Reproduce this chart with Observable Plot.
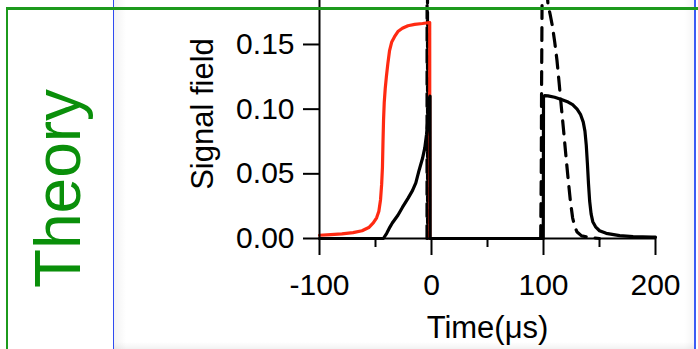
<!DOCTYPE html>
<html>
<head>
<meta charset="utf-8">
<script src="https://cdn.jsdelivr.net/npm/d3@7"></script>
<script src="https://cdn.jsdelivr.net/npm/@observablehq/plot@0.6"></script>
<style>
html, body { margin: 0; padding: 0; background: #fff; }
#wrap { position: relative; width: 698px; height: 349px; overflow: hidden; background: #fff; }
#chart { position: absolute; left: 0; top: 0; }
.deco { position: absolute; }
.shade-l { left: 114px; top: 0; width: 12px; height: 349px; background: linear-gradient(to right, rgba(0,0,0,0.05), rgba(0,0,0,0)); }
.shade-r { left: 684px; top: 0; width: 10px; height: 349px; background: linear-gradient(to left, rgba(0,0,0,0.04), rgba(0,0,0,0)); }
.shade-b { left: 114px; top: 342px; width: 580px; height: 7px; background: linear-gradient(to bottom, rgba(0,0,0,0), rgba(0,0,0,0.05)); }
.blue-l { left: 113px; top: 0; width: 1px; height: 349px; background: #2f4cf0; }
.blue-r { left: 694px; top: 0; width: 2px; height: 349px; background: #3a5cf5; }
.green-t { left: 6px; top: 7px; width: 692px; height: 3px; background: #1c9a1c; }
.green-l { left: 6px; top: 7px; width: 2px; height: 342px; background: #1c9a1c; }
</style>
</head>
<body>
<div id="wrap">
  <div id="chart"></div>
  <div class="deco shade-l"></div>
  <div class="deco shade-r"></div>
  <div class="deco shade-b"></div>
  <div class="deco blue-l"></div>
  <div class="deco blue-r"></div>
  <div class="deco green-t"></div>
  <div class="deco green-l"></div>
</div>
<script>
// ---- data ----
const xTicks = [-100, 0, 100, 200];
const xMinorTicks = [-50, 50, 150];
const yTicks = [0, 0.05, 0.10, 0.15];
const xLabel = "Time(μs)";
const yLabel = "Signal field";
const panelLabel = "Theory";

// red curve
const redT = [-100, -90, -80, -70, -62, -56, -52, -49, -47, -45.5, -44.5, -43.8, -43.3, -42.8, -42.2, -41.3, -40.3, -39, -37.5, -35.5, -33, -30, -26, -21, -15, -8, -1.6, -1.5];
const redV = [0.0025, 0.003, 0.0036, 0.0045, 0.006, 0.0085, 0.012, 0.016, 0.021, 0.03, 0.042, 0.055, 0.075, 0.092, 0.105, 0.116, 0.125, 0.135, 0.145, 0.152, 0.156, 0.16, 0.1625, 0.1645, 0.1655, 0.1662, 0.167, 0];

// black solid curve
const solidT = [-100, -43, -40, -37, -35, -30, -26, -21, -17, -14, -11, -8, -6, -4.5, -3.5, -2.5, -1.8, -1.3, -1.2, 99.8, 100, 101, 104, 110, 116, 122, 126, 130, 133, 135.5, 137, 138.2, 139.2, 140.2, 141.2, 142.5, 144, 146.5, 150, 156, 168, 180, 197, 200];
const solidV = [0, 0, 0.004, 0.009, 0.012, 0.018, 0.024, 0.031, 0.037, 0.043, 0.053, 0.062, 0.07, 0.08, 0.089, 0.1, 0.109, 0.11, 0, 0, 0.109, 0.1105, 0.1103, 0.1092, 0.1075, 0.1055, 0.1035, 0.1, 0.096, 0.09, 0.083, 0.072, 0.058, 0.042, 0.029, 0.019, 0.013, 0.009, 0.006, 0.004, 0.0022, 0.0015, 0.001, 0.001];

// black dashed curve (NaN = gap)
const dashT = [-4, -3.9, -3.6, -3.5, 0, 97.5, 98, 98.3, 98.7, 99.5, 101, 102.5, 104, 106, 108, 110, 112, 114, 116, 118, 120, 122, 124, 126, 128, 130, 134, 140, 150];
const dashV = [0, 0.3, 0.3, 0, NaN, 0, 0.05, 0.12, 0.18, 0.21, 0.215, 0.2, 0.181, 0.173, 0.164, 0.152, 0.138, 0.12, 0.101, 0.083, 0.064, 0.046, 0.029, 0.016, 0.009, 0.005, 0.002, 0.001, 0];

const toRows = (T, V) => T.map((t, i) => ({t, v: V[i]}));
const redData = toRows(redT, redV);
const solidData = toRows(solidT, solidV);
const dashData = toRows(dashT, dashV);

const font = '"Liberation Sans", Arial, Helvetica, sans-serif';
const fs = 30;
const fsLabel = 31;

const chart = Plot.plot({
  width: 698,
  height: 349,
  marginLeft: 319,
  marginRight: 43,
  marginTop: 0,
  marginBottom: 111,
  style: {fontFamily: font, background: "transparent", overflow: "hidden", color: "#000"},
  x: {domain: [-100, 200]},
  y: {domain: [0, 0.184]},
  marks: [
    Plot.line(dashData, {x: "t", y: "v", stroke: "#000", strokeWidth: 3.2, strokeDasharray: "13,9"}),
    Plot.line(redData, {x: "t", y: "v", stroke: "#ff2a12", strokeWidth: 3.2}),
    Plot.line(solidData, {x: "t", y: "v", stroke: "#000", strokeWidth: 3.2}),
    Plot.ruleY([0], {strokeWidth: 2}),
    Plot.ruleX([-100], {strokeWidth: 2}),
    Plot.axisY({ticks: yTicks, tickFormat: d3.format(".2f"), tickSize: 16, tickPadding: 9, fontSize: fs, strokeWidth: 2, label: null}),
    Plot.axisX({ticks: xTicks, tickFormat: d => String(d), tickSize: 17, tickPadding: 18, fontSize: fs, strokeWidth: 2, label: null}),
    Plot.axisX({ticks: xMinorTicks, tickFormat: () => "", tickSize: 9, strokeWidth: 2, label: null}),
    Plot.text([yLabel], {text: d => d, frameAnchor: "left", textAnchor: "middle", dx: -116, dy: -5.5, rotate: -90, fontSize: fsLabel, lineAnchor: "middle"}),
    Plot.text([xLabel], {text: d => d, frameAnchor: "bottom", textAnchor: "middle", dy: 90, fontSize: fsLabel, lineAnchor: "middle"}),
    Plot.text([panelLabel], {text: d => d, frameAnchor: "left", textAnchor: "middle", dx: -259.5, dy: 69, rotate: -90, fontSize: 64, fill: "#0a8f0a", lineAnchor: "middle"})
  ]
});
document.getElementById("chart").appendChild(chart);
</script>
</body>
</html>
